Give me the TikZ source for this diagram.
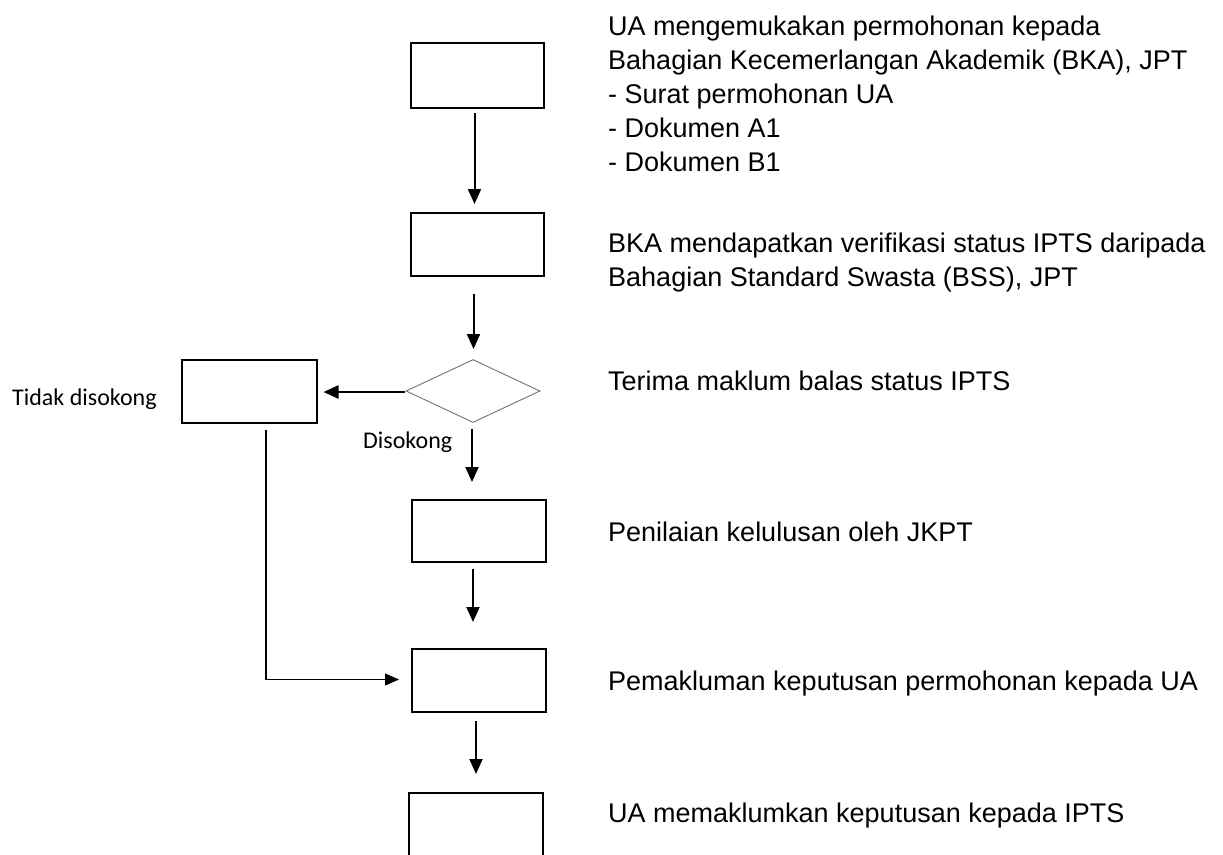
\documentclass[tikz,border=0pt]{standalone}
\usepackage{fontspec}
\setmainfont{Liberation Sans}
\newfontfamily\calfont{Carlito}
\usetikzlibrary{shapes.geometric,arrows.meta}
\begin{document}
\begin{tikzpicture}[x=1pt,y=-1pt,
  box/.style={draw=black,line width=2pt,minimum width=133pt,minimum height=63pt,inner sep=0pt},
  dec/.style={draw=black!55,line width=0.9pt,diamond,minimum width=134pt,minimum height=63pt,inner sep=0pt},
  arr/.style={line width=2pt,-{Triangle[length=15pt,width=13pt]}},
  thin/.style={line width=1.1pt,-{Triangle[length=14pt,width=12pt]}},
  txt/.style={anchor=base west,inner sep=0pt,font=\fontsize{27}{34}\selectfont},
  lbl/.style={anchor=base west,inner sep=0pt,font=\calfont\fontsize{24}{28}\selectfont}]
\useasboundingbox[fill=white] (0,0) rectangle (1223,854);
% boxes
\node[box,minimum height=65pt] (b1) at (477.5,75.5) {};
\node[box] (b2) at (477.5,244.5) {};
\node[dec] (dia) at (473,391) {};
\node[box,minimum width=135pt,minimum height=63pt] (b3) at (249,391.5) {};
\node[box,minimum width=134pt,minimum height=62pt] (b4) at (479,531) {};
\node[box,minimum width=134pt] (b5) at (479,680.5) {};
\node[box,minimum width=134pt,minimum height=64pt] (b6) at (476,825) {};
% connectors
\draw[arr] ([xshift=-3pt,yshift=-4pt]b1.south) -- ([xshift=-3pt,yshift=8pt]b2.north);
\draw[arr] ([xshift=-4pt,yshift=-17pt]b2.south) -- ([xshift=0.5pt,yshift=10pt]dia.north);
\draw[arr] ([xshift=-1pt,yshift=-6pt]dia.south) -- ([xshift=-7pt,yshift=17pt]b4.north);
\draw[arr] ([xshift=-6pt,yshift=-6pt]b4.south) -- ([xshift=-6pt,yshift=26pt]b5.north);
\draw[arr] ([xshift=-3pt,yshift=-8pt]b5.south) -- ([xshift=0pt,yshift=18pt]b6.north);
\draw[arr,line width=2.4pt] ([xshift=-1pt,yshift=-1pt]dia.west) -- ([xshift=6pt,yshift=-0.5pt]b3.east);
\draw[thin] ([xshift=17pt,yshift=-6pt]b3.south) |- ([xshift=-12pt,yshift=1pt]b5.west);
% texts
\node[txt] (t1a) at (608,35) {UA mengemukakan permohonan kepada};
\node[txt] (t1b) at (608,69) {Bahagian Kecemerlangan Akademik (BKA), JPT};
\node[txt] (t1c) at (608,103) {- Surat permohonan UA};
\node[txt] (t1d) at (608,137) {- Dokumen A1};
\node[txt] (t1e) at (608,171) {- Dokumen B1};
\node[txt] (t2a) at (608,252) {BKA mendapatkan verifikasi status IPTS daripada};
\node[txt] (t2b) at (608,286) {Bahagian Standard Swasta (BSS), JPT};
\node[txt] (t3) at (608,390) {Terima maklum balas status IPTS};
\node[txt] (t4) at (608,541) {Penilaian kelulusan oleh JKPT};
\node[txt] (t5) at (608,690) {Pemakluman keputusan permohonan kepada UA};
\node[txt] (t6) at (608,822) {UA memaklumkan keputusan kepada IPTS};
\node[lbl] (no) at (12,405) {Tidak disokong};
\node[lbl] (yes) at (363,448) {Disokong};
\end{tikzpicture}
\end{document}
